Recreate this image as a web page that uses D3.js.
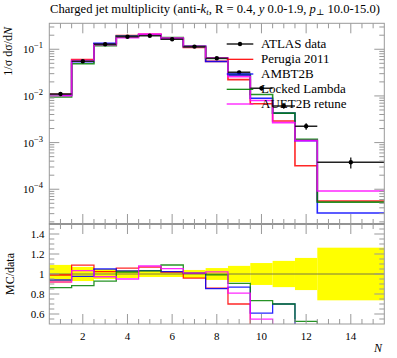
<!DOCTYPE html>
<html><head><meta charset="utf-8">
<script src="https://cdn.jsdelivr.net/npm/d3@7"></script>
<style>body{margin:0;background:#fff}svg{display:block}text{font-family:"Liberation Serif","DejaVu Serif",serif;fill:#000}</style>
</head><body><svg id="c" width="397" height="358"></svg>
<script>
// ---- data ----
const binEdges = [0.5,1.5,2.5,3.5,4.5,5.5,6.5,7.5,8.5,9.5,10.5,11.5,12.5,15.5];
const dataVals = [0.0110,0.0553,0.128,0.186,0.195,0.164,0.114,0.064,0.032,0.0146,0.0061,0.00224,0.00038];
const dataErr  = [0.0010,0.0039,0.0064,0.0074,0.0059,0.0049,0.0046,0.0038,0.0026,0.0016,0.0008,0.00036,0.0001];
const perugia  = [0.01089,0.0602,0.1311,0.1968,0.2083,0.1673,0.1094,0.0550,0.0224,0.0068,0.00291,0.00032,0.000056];
const ambt2b   = [0.01034,0.0540,0.1344,0.1916,0.2016,0.1679,0.1151,0.0547,0.0278,0.0089,0.00427,0.00110,0.000031];
const locked   = [0.0095,0.0489,0.1190,0.1897,0.2009,0.1788,0.1148,0.0634,0.0290,0.0107,0.00427,0.00118,0.000053];
const auet2b   = [0.01012,0.0572,0.1245,0.1767,0.2106,0.1729,0.1151,0.0653,0.0259,0.0080,0.00268,0.00110,0.000092];
const seriesNames = ["Perugia 2011","AMBT2B","Locked Lambda","AUET2B retune"];
const seriesColors = ["#ff0000","#0000ff","#008000","#ff00ff"];
const xTickLabels = [2,4,6,8,10,12,14];
const yMainTicks = [1e-4,1e-3,1e-2,1e-1];
const yMainTickExp = ["−4","−3","−2","−1"];
const yRatioTicks = [0.6,0.8,1.0,1.2,1.4];
const yRatioTickLabels = ["0.6","0.8","1","1.2","1.4"];

// ---- layout ----
const L=49.3, R=384.3, T=23.3, M=224, B=324;
const svg = d3.select("#c");
const x = d3.scaleLinear().domain([0.5,15.5]).range([L,R]);
const y = d3.scaleLog().domain([1.8e-5,0.36]).range([M,T]);
const yr = d3.scaleLinear().domain([0.5,1.5]).range([B,M]);
const series = [perugia, ambt2b, locked, auet2b];

const defs = svg.append("defs");
defs.append("clipPath").attr("id","cm").append("rect").attr("x",L).attr("y",T).attr("width",R-L).attr("height",M-T);
defs.append("clipPath").attr("id","cr").append("rect").attr("x",L).attr("y",M).attr("width",R-L).attr("height",B-M);

function stepPts(vals){ const p = vals.map((v,i)=>[binEdges[i],v]); p.push([binEdges[binEdges.length-1], vals[vals.length-1]]); return p; }

// ---- main panel ----
const gm = svg.append("g").attr("clip-path","url(#cm)");
const lineMain = d3.line().x(d=>x(d[0])).y(d=>y(d[1])).curve(d3.curveStepAfter);
series.forEach((s,k)=>{
  gm.append("path").attr("d",lineMain(stepPts(s))).attr("fill","none")
    .attr("stroke",seriesColors[k]).attr("stroke-width",1.6).attr("stroke-opacity",0.85);
});
dataVals.forEach((v,i)=>{
  const xc = (binEdges[i]+binEdges[i+1])/2;
  const cx = i===dataVals.length-1 ? x(14) : x(xc);
  gm.append("line").attr("x1",x(binEdges[i])).attr("x2",x(binEdges[i+1])).attr("y1",y(v)).attr("y2",y(v)).attr("stroke","#222").attr("stroke-width",1.6);
  gm.append("line").attr("x1",cx).attr("x2",cx).attr("y1",y(v-dataErr[i])).attr("y2",y(v+dataErr[i])).attr("stroke","#000").attr("stroke-width",1.2);
  gm.append("circle").attr("cx",cx).attr("cy",y(v)).attr("r",2.2).attr("fill","#000");
});

// ---- ratio panel ----
const gr = svg.append("g").attr("clip-path","url(#cr)");
dataVals.forEach((v,i)=>{
  const e = dataErr[i]/v;
  gr.append("rect").attr("x",x(binEdges[i])).attr("width",x(binEdges[i+1])-x(binEdges[i]))
    .attr("y",yr(1+e)).attr("height",yr(1-e)-yr(1+e)).attr("fill","#ffff00");
});
gr.append("line").attr("x1",L).attr("x2",R).attr("y1",yr(1)).attr("y2",yr(1)).attr("stroke","#555").attr("stroke-width",0.8);
const lineR = d3.line().x(d=>x(d[0])).y(d=>yr(d[1])).curve(d3.curveStepAfter);
series.forEach((s,k)=>{
  const r = s.map((v,i)=>v/dataVals[i]);
  gr.append("path").attr("d",lineR(stepPts(r))).attr("fill","none")
    .attr("stroke",seriesColors[k]).attr("stroke-width",1.3).attr("stroke-opacity",0.85);
});

// ---- frames & ticks ----
const tc = "#999";
[[T,M],[M,B]].forEach(([t,b])=>{
  svg.append("rect").attr("x",L).attr("y",t).attr("width",R-L).attr("height",b-t).attr("fill","none").attr("stroke",tc).attr("stroke-width",1);
});
svg.append("line").attr("x1",L).attr("x2",R).attr("y1",M).attr("y2",M).attr("stroke","#777").attr("stroke-width",1.2);
const tk = svg.append("g").attr("stroke",tc).attr("stroke-width",1);
function xticks(yy, dir){
  for(let v=1; v<=15.001; v+=0.5){
    const len = (Math.abs(v%2)<1e-6)?10:5;
    tk.append("line").attr("x1",x(v)).attr("x2",x(v)).attr("y1",yy).attr("y2",yy+dir*len);
  }
}
xticks(T,1); xticks(M,-1); xticks(M,1); xticks(B,-1);
function yticks(sc, vals, len){
  vals.forEach(v=>{
    tk.append("line").attr("x1",L).attr("x2",L+len).attr("y1",sc(v)).attr("y2",sc(v));
    tk.append("line").attr("x1",R).attr("x2",R-len).attr("y1",sc(v)).attr("y2",sc(v));
  });
}
yticks(y, yMainTicks, 10);
const minorLog=[]; for(let d=-5; d<=-1; d++) for(let k=2;k<=9;k++){const v=k*Math.pow(10,d); if(v>1.8e-5 && v<0.36) minorLog.push(v);}
yticks(y, minorLog, 5);
yticks(yr, yRatioTicks, 10);
const minorR=[]; for(let v=0.55; v<1.5; v+=0.05){ if(Math.abs((v*5)-Math.round(v*5))>1e-6) minorR.push(v);}
yticks(yr, minorR, 5);

// ---- tick labels ----
yMainTicks.forEach((v,i)=>{
  const t = svg.append("text").attr("x",43).attr("y",y(v)+4).attr("text-anchor","end").attr("font-size",11);
  t.append("tspan").text("10");
  t.append("tspan").attr("dy",-5).attr("font-size",8.5).text(yMainTickExp[i]);
});
yRatioTicks.forEach((v,i)=>{
  svg.append("text").attr("x",44.5).attr("y",yr(v)+4).attr("text-anchor","end").attr("font-size",11).text(yRatioTickLabels[i]);
});
xTickLabels.forEach(v=>{
  svg.append("text").attr("x",x(v)).attr("y",340).attr("text-anchor","middle").attr("font-size",11).text(v);
});
svg.append("text").attr("x",378).attr("y",352).attr("text-anchor","middle").attr("font-size",12).attr("font-style","italic").text("N");

// axis titles
const yl = svg.append("text").attr("transform","translate(12,27) rotate(-90)").attr("text-anchor","end").attr("font-size",12);
yl.append("tspan").text("1/σ dσ/d");
yl.append("tspan").attr("font-style","italic").text("N");
svg.append("text").attr("transform","translate(14,274) rotate(-90)").attr("text-anchor","middle").attr("font-size",12).text("MC/data");

// title
const tt = svg.append("text").attr("x",50).attr("y",13).attr("font-size",12).attr("textLength",330).attr("lengthAdjust","spacingAndGlyphs");
tt.append("tspan").text("Charged jet multiplicity (anti-");
tt.append("tspan").attr("font-style","italic").text("k");
tt.append("tspan").attr("font-style","italic").attr("font-size",8.5).attr("dy",2).text("t");
tt.append("tspan").attr("dy",-2).text(", R = 0.4, ");
tt.append("tspan").attr("font-style","italic").text("y");
tt.append("tspan").text(" 0.0-1.9, ");
tt.append("tspan").attr("font-style","italic").text("p");
tt.append("tspan").attr("font-size",8.5).attr("dy",2).text("⊥");
tt.append("tspan").attr("dy",-2).text(" 10.0-15.0)");

// legend
const legY = [44,59.3,74,89.3,104];
const lg = svg.append("g");
lg.append("line").attr("x1",226.7).attr("x2",253.3).attr("y1",legY[0]).attr("y2",legY[0]).attr("stroke","#333").attr("stroke-width",1.6);
lg.append("circle").attr("cx",240).attr("cy",legY[0]).attr("r",2.2).attr("fill","#000");
lg.append("text").attr("x",261).attr("y",legY[0]+4).attr("font-size",13).text("ATLAS data");
seriesNames.forEach((n,k)=>{
  lg.append("line").attr("x1",226.7).attr("x2",253.3).attr("y1",legY[k+1]).attr("y2",legY[k+1]).attr("stroke",seriesColors[k]).attr("stroke-width",1.2);
  lg.append("text").attr("x",261).attr("y",legY[k+1]+4).attr("font-size",13).text(n);
});
</script></body></html>
